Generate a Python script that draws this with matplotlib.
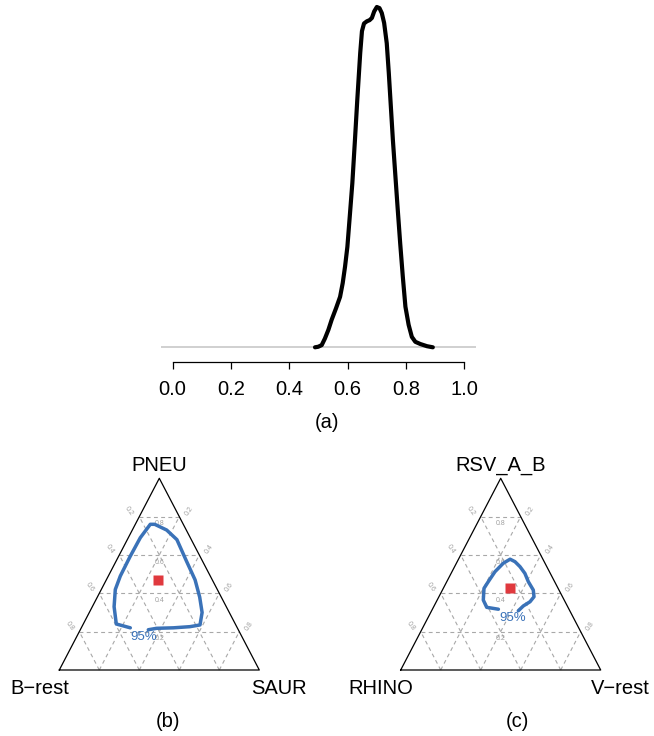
import numpy as np
import matplotlib
matplotlib.use("Agg")
import matplotlib.pyplot as plt

plt.rcParams['font.family'] = ['Liberation Sans', 'DejaVu Sans']

# (a) posterior density
dens_x = [0.488, 0.499, 0.511, 0.522, 0.534, 0.545, 0.560, 0.574, 0.583, 0.591,
          0.599, 0.608, 0.616, 0.625, 0.633, 0.643, 0.649, 0.656, 0.666, 0.675,
          0.683, 0.691, 0.700, 0.709, 0.717, 0.725, 0.734, 0.741, 0.748, 0.755,
          0.763, 0.771, 0.780, 0.789, 0.798, 0.809, 0.820, 0.832, 0.849, 0.872, 0.892]
dens_y = [0.00, 0.01, 0.04, 0.16, 0.32, 0.50, 0.71, 0.92, 1.17, 1.47,
          1.83, 2.44, 2.99, 3.78, 4.51, 5.36, 5.76, 5.90, 5.94, 5.96,
          6.00, 6.12, 6.20, 6.18, 6.09, 5.91, 5.54, 5.00, 4.39, 3.78,
          3.17, 2.56, 1.90, 1.29, 0.74, 0.41, 0.19, 0.10, 0.06, 0.02, 0.00]
x_ticks = [0.0, 0.2, 0.4, 0.6, 0.8, 1.0]

# (b) bacteria ternary: top, left, right
b_names = ['PNEU', 'B\u2212rest', 'SAUR']
b_top = [0.22, 0.24, 0.33, 0.42, 0.49, 0.59, 0.69, 0.76, 0.76, 0.73,
         0.68, 0.57, 0.47, 0.38, 0.30, 0.235, 0.226, 0.22, 0.2175, 0.21]
b_right = [0.245, 0.165, 0.109, 0.07, 0.06, 0.058, 0.06, 0.075, 0.097, 0.172,
           0.248, 0.35, 0.444, 0.512, 0.564, 0.586, 0.54, 0.46, 0.378, 0.34]
b_point = (0.47, 0.259)
b_label_pos = (0.174, 0.337)

# (c) virus ternary
c_names = ['RSV_A_B', 'RHINO', 'V\u2212rest']
c_top = [0.317, 0.327, 0.365, 0.426, 0.461, 0.513, 0.557, 0.578, 0.565,
         0.539, 0.504, 0.461, 0.417, 0.382, 0.356, 0.334, 0.309]
c_right = [0.330, 0.2665, 0.2305, 0.2035, 0.2075, 0.215, 0.2345, 0.258, 0.289,
           0.327, 0.369, 0.4075, 0.4545, 0.4755, 0.4685, 0.446, 0.4335]
c_point = (0.426, 0.3335)
c_label_pos = (0.27, 0.425)

grid_levels = [0.2, 0.4, 0.6, 0.8]

W, H = 654, 736
fig = plt.figure(figsize=(W / 100, H / 100), dpi=100)

# ---- panel (a)
peak = max(dens_y)
base_px, peak_px, axis_px = 347.3, 7.0, 361.7
k = (base_px - peak_px) / peak
ax = fig.add_axes([161 / W, 1 - axis_px / H, 315 / W, axis_px / H])
ax.set_xlim(-0.04, 1.04)
ax.set_ylim(-(axis_px - base_px) / k, peak + peak_px / k)
ax.axhline(0, color='#c8c8c8', lw=1.2, zorder=1)
ax.plot(dens_x, dens_y, color='black', lw=3.0, solid_capstyle='round', zorder=2, clip_on=False)
for s in ['top', 'right', 'left']:
    ax.spines[s].set_visible(False)
ax.spines['bottom'].set_bounds(0, 1)
ax.spines['bottom'].set_linewidth(0.9)
ax.set_yticks([])
ax.set_xticks(x_ticks)
ax.set_xticklabels(['%.1f' % t for t in x_ticks], fontsize=14.5)
ax.tick_params(axis='x', length=5, width=0.9, pad=8.5)
ax.patch.set_alpha(0)
fig.text(327 / W, 1 - 423 / H, '(a)', ha='center', va='center', fontsize=14.5)


def tern_xy(top, right):
    top = np.asarray(top)
    right = np.asarray(right)
    return right + top / 2, top


def ternary(left_px, names, top, right, point, label_pos, sub, sub_x):
    tw, th = 200, 191.7
    ax = fig.add_axes([left_px / W, 1 - 670 / H, tw / W, th / H])
    ax.set_xlim(0, 1)
    ax.set_ylim(0, 1)
    ax.axis('off')
    gkw = dict(color='#a8a8a8', lw=0.8, ls=(0, (3.5, 3)), clip_on=False, zorder=1)
    for g in grid_levels:
        ax.plot([g / 2, 1 - g / 2], [g, g], **gkw)
        ax.plot([g, g + (1 - g) / 2], [0, 1 - g], **gkw)
        ax.plot([1 - g, (1 - g) / 2], [0, 1 - g], **gkw)
    ax.plot([0, 1, 0.5, 0], [0, 0, 1, 0], color='black', lw=0.9, clip_on=False, zorder=2)
    lkw = dict(fontsize=5, color='#a0a0a0', ha='center', va='center')
    for g in grid_levels:
        ax.text(0.5, g - 0.037, '%.1f' % g, **lkw)
        ax.text((1 - g) / 2 - 0.05, 1 - g + 0.03, '%.1f' % g, rotation=-55, **lkw)
        ax.text(1 - (1 - g) / 2 + 0.05, 1 - g + 0.03, '%.1f' % g, rotation=55, **lkw)
    ax.text(0.5, 1.068, names[0], ha='center', va='center', fontsize=14.5)
    ax.text(-0.097, -0.094, names[1], ha='center', va='center', fontsize=14.5)
    ax.text(1.1, -0.094, names[2], ha='center', va='center', fontsize=14.5)
    cx, cy = tern_xy(top, right)
    ax.plot(cx, cy, color='#3a72b8', lw=2.5, solid_capstyle='round', clip_on=False, zorder=3)
    px, py = tern_xy(point[0], point[1])
    ax.plot(px, py, marker='s', ms=6.5, color='#e0393e', mec='none', zorder=4)
    lx, ly = tern_xy(label_pos[0], label_pos[1])
    ax.text(lx, ly, '95%', color='#3a72b8', fontsize=9.5, ha='center', va='center', zorder=4)
    fig.text(sub_x / W, 1 - 721.7 / H, sub, ha='center', va='center', fontsize=14.5)


ternary(59.3, b_names, b_top, b_right, b_point, b_label_pos, '(b)', 168.3)
ternary(400.7, c_names, c_top, c_right, c_point, c_label_pos, '(c)', 517)

fig.savefig('out.png', dpi=100)
